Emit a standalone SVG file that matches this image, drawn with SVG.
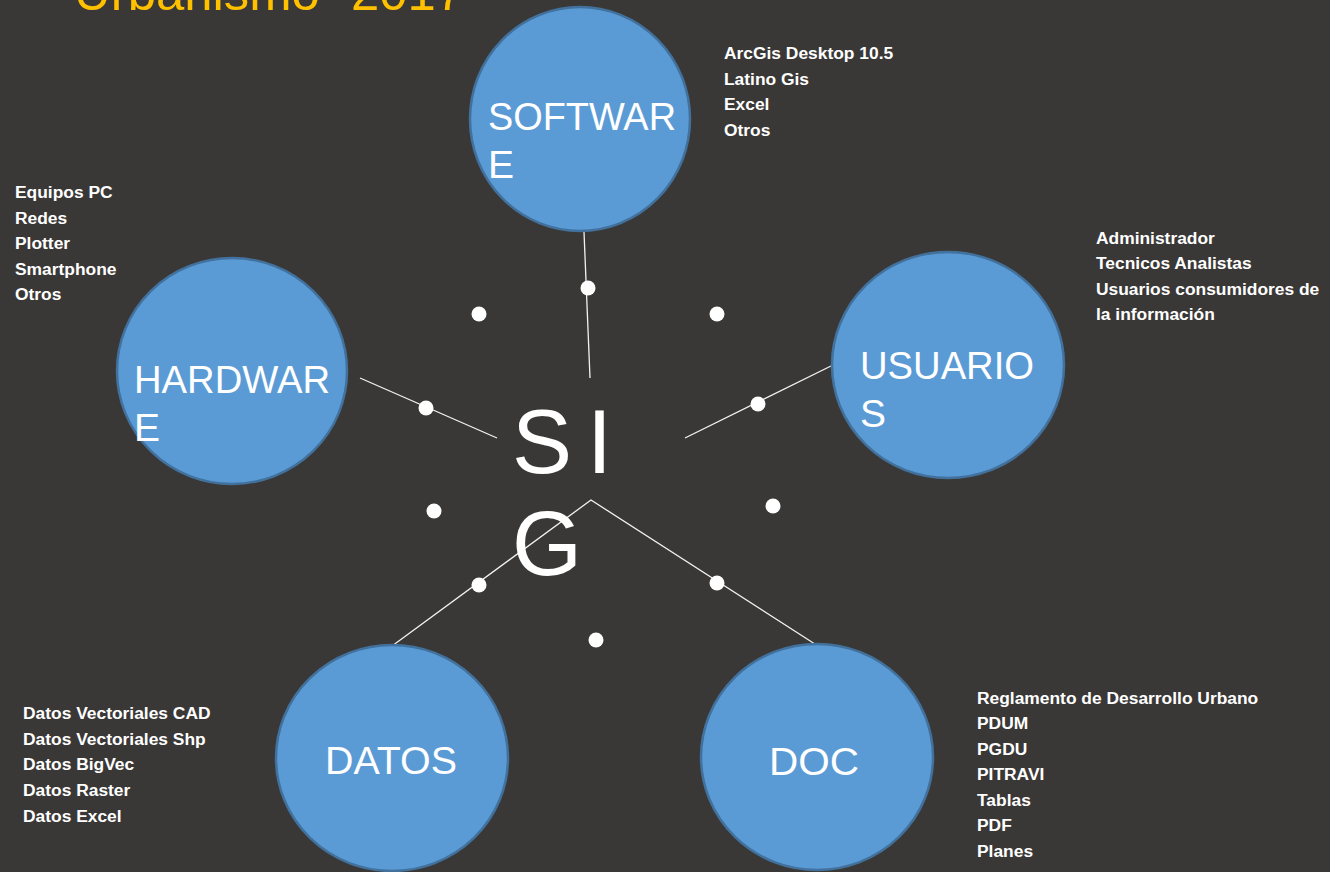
<svg xmlns="http://www.w3.org/2000/svg" width="1330" height="872" viewBox="0 0 1330 872">
<style>
.node{fill:#5B9BD5;stroke:#41719C;stroke-width:2.5}
.lbl{font-family:"Liberation Sans",Arial,sans-serif;font-size:39px;fill:#FFFFFF}
.lst{font-family:"Liberation Sans",Arial,sans-serif;font-size:17.4px;font-weight:bold;fill:#FFFFFF}
.big{font-family:"Liberation Sans",Arial,sans-serif;font-size:90px;fill:#FFFFFF}
.conn{stroke:#F2F2F2;stroke-width:1.3;fill:none}
.dot{fill:#FFFFFF}
</style>
<rect width="1330" height="872" fill="#3A3836"/>
<text x="74" y="10" font-family="Liberation Sans, Arial, sans-serif" font-size="50" fill="#FFC000" textLength="390" lengthAdjust="spacingAndGlyphs">Urbanismo- 2017</text>

<g id="connectors">
<line class="conn" x1="584" y1="232" x2="590" y2="378" stroke="#D0D0D0"/>
<line class="conn" x1="360" y1="378" x2="497" y2="438"/>
<line class="conn" x1="833" y1="365" x2="685" y2="438"/>
<polyline class="conn" points="392,646 591,500 818,646"/>
</g>

<g id="dots">
<circle class="dot" cx="588" cy="288" r="7.5"/>
<circle class="dot" cx="426" cy="408" r="7.5"/>
<circle class="dot" cx="758" cy="404" r="7.5"/>
<circle class="dot" cx="479" cy="585" r="7.5"/>
<circle class="dot" cx="717" cy="583" r="7.5"/>
<circle class="dot" cx="479" cy="314" r="7.5"/>
<circle class="dot" cx="717" cy="314" r="7.5"/>
<circle class="dot" cx="434" cy="511" r="7.5"/>
<circle class="dot" cx="773" cy="506" r="7.5"/>
<circle class="dot" cx="596" cy="640" r="7.5"/>
</g>

<g id="sig">
<text class="big" x="512" y="473">S<tspan x="587">I</tspan></text>
<text class="big" x="512" y="575">G</text>
</g>

<g id="software">
<ellipse class="node" cx="580" cy="119" rx="110" ry="112"/>
<text class="lbl" x="488" y="130" textLength="188" lengthAdjust="spacingAndGlyphs">SOFTWAR</text>
<text class="lbl" x="488" y="178">E</text>
<text class="lst" x="724" y="59">ArcGis Desktop 10.5</text>
<text class="lst" x="724" y="85">Latino Gis</text>
<text class="lst" x="724" y="110">Excel</text>
<text class="lst" x="724" y="136">Otros</text>
</g>

<g id="hardware">
<ellipse class="node" cx="232" cy="371" rx="115" ry="113"/>
<text class="lbl" x="134" y="393" textLength="196" lengthAdjust="spacingAndGlyphs">HARDWAR</text>
<text class="lbl" x="134" y="441">E</text>
<text class="lst" x="15" y="198">Equipos PC</text>
<text class="lst" x="15" y="224">Redes</text>
<text class="lst" x="15" y="249">Plotter</text>
<text class="lst" x="15" y="275">Smartphone</text>
<text class="lst" x="15" y="300">Otros</text>
</g>

<g id="usuarios">
<ellipse class="node" cx="948" cy="365" rx="116" ry="113"/>
<text class="lbl" x="860" y="379" textLength="174" lengthAdjust="spacingAndGlyphs">USUARIO</text>
<text class="lbl" x="860" y="427">S</text>
<text class="lst" x="1096" y="244">Administrador</text>
<text class="lst" x="1096" y="269">Tecnicos Analistas</text>
<text class="lst" x="1096" y="295">Usuarios consumidores de</text>
<text class="lst" x="1096" y="320">la información</text>
</g>

<g id="datos">
<ellipse class="node" cx="392" cy="758" rx="116" ry="113"/>
<text class="lbl" x="325" y="774" textLength="132" lengthAdjust="spacingAndGlyphs">DATOS</text>
<text class="lst" x="23" y="719">Datos Vectoriales CAD</text>
<text class="lst" x="23" y="745">Datos Vectoriales Shp</text>
<text class="lst" x="23" y="770">Datos BigVec</text>
<text class="lst" x="23" y="796">Datos Raster</text>
<text class="lst" x="23" y="822">Datos Excel</text>
</g>

<g id="doc">
<ellipse class="node" cx="817" cy="757" rx="116" ry="113"/>
<text class="lbl" x="769" y="775" textLength="90" lengthAdjust="spacingAndGlyphs">DOC</text>
<text class="lst" x="977" y="704">Reglamento de Desarrollo Urbano</text>
<text class="lst" x="977" y="729">PDUM</text>
<text class="lst" x="977" y="755">PGDU</text>
<text class="lst" x="977" y="780">PITRAVI</text>
<text class="lst" x="977" y="806">Tablas</text>
<text class="lst" x="977" y="831">PDF</text>
<text class="lst" x="977" y="857">Planes</text>
</g>
</svg>
